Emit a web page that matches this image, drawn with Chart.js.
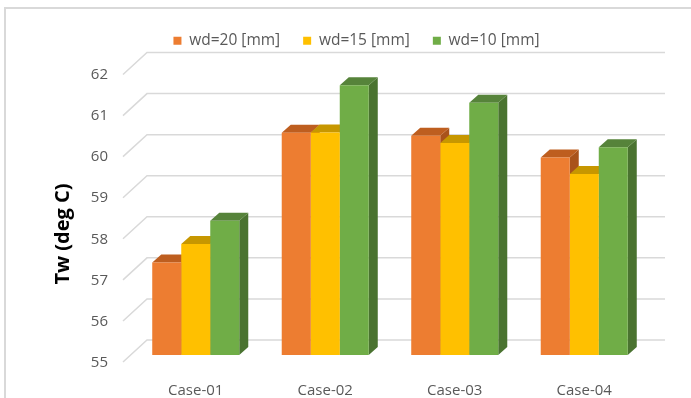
<!DOCTYPE html>
<html>
<head>
<meta charset="utf-8">
<script src="https://cdn.jsdelivr.net/npm/chart.js@4.4.1/dist/chart.umd.min.js"></script>
<style>
  html, body { margin: 0; padding: 0; background: #fff; }
  #wrap { width: 691px; height: 398px; }
</style>
</head>
<body>
<div id="wrap"><canvas id="twChart" width="691" height="398"></canvas></div>
<script>
// Wall temperature for each case and web depth
const cases = ['Case-01', 'Case-02', 'Case-03', 'Case-04'];
const seriesNames = ['wd=20 [mm]', 'wd=15 [mm]', 'wd=10 [mm]'];
const wd20 = [57.25, 60.41, 60.34, 59.81];
const wd15 = [57.70, 60.42, 60.16, 59.41];
const wd10 = [58.27, 61.57, 61.14, 60.06];
const yTicks = [55, 56, 57, 58, 59, 60, 61, 62];
const yTitle = 'Tw (deg C)';

const frontColors = ['#ED7D31', '#FFC000', '#70AD47'];
const topColors = ['#BE5E1F', '#C79700', '#56833A'];
const sideColors = ['#A9531B', '#AE8400', '#4A7330'];

const FONT = "'Open Sans', 'Noto Sans', sans-serif";
const GRID = '#d9d9d9';

// bar depth and wall offsets (pixels, relative to the bar plane)
const BAR_DX = 9, BAR_DY = 8;
const BACK_DX = 16, BACK_DY = 15;
const FRONT_DX = 8, FRONT_DY = 7;

function poly(ctx, pts, color) {
    ctx.beginPath();
    ctx.moveTo(pts[0][0], pts[0][1]);
    for (let i = 1; i < pts.length; i++) ctx.lineTo(pts[i][0], pts[i][1]);
    ctx.closePath();
    ctx.fillStyle = color;
    ctx.fill();
}

// draws the frame, the walls and the top / side faces of the bars
const depthPlugin = {
    id: 'depth',
    beforeDraw(chart) {
        const ctx = chart.ctx;
        ctx.save();
        ctx.strokeStyle = GRID;
        ctx.lineWidth = 2;
        ctx.beginPath();
        ctx.moveTo(5, 398);
        ctx.lineTo(5, 8);
        ctx.lineTo(691, 8);
        ctx.stroke();
        ctx.restore();
    },
    beforeDatasetsDraw(chart) {
        const ctx = chart.ctx;
        const a = chart.chartArea;
        const y = chart.scales.y;
        ctx.save();
        ctx.strokeStyle = GRID;
        ctx.lineWidth = 1.5;
        yTicks.forEach(v => {
            const py = y.getPixelForValue(v);
            ctx.beginPath();
            ctx.moveTo(a.left - FRONT_DX, py + FRONT_DY);
            ctx.lineTo(a.left + BACK_DX, py - BACK_DY);
            ctx.lineTo(a.right + BACK_DX, py - BACK_DY);
            ctx.stroke();
        });

        cases.forEach((c, i) => {
            chart.data.datasets.forEach((ds, d) => {
                const bar = chart.getDatasetMeta(d).data[i];
                const p = bar.getProps(['x', 'y', 'base', 'width'], true);
                const l = p.x - p.width / 2, r = p.x + p.width / 2;
                const t = p.y, b = p.base;
                poly(ctx, [[r, t], [r + BAR_DX, t - BAR_DY], [r + BAR_DX, b - BAR_DY], [r, b]], sideColors[d]);
                poly(ctx, [[l, t], [r, t], [r + BAR_DX, t - BAR_DY], [l + BAR_DX, t - BAR_DY]], topColors[d]);
            });
        });
        ctx.restore();
    },
    afterDraw(chart) {
        const ctx = chart.ctx;
        ctx.save();
        ctx.translate(63, 234);
        ctx.rotate(-Math.PI / 2);
        ctx.font = "bold 20px " + FONT;
        ctx.fillStyle = '#000';
        ctx.textAlign = 'center';
        ctx.textBaseline = 'middle';
        ctx.fillText(yTitle, 0, 0);
        ctx.restore();
    }
};

document.addEventListener('DOMContentLoaded', function() {
    const ctx = document.getElementById('twChart').getContext('2d');
    const values = [wd20, wd15, wd10];

    new Chart(ctx, {
        type: 'bar',
        data: {
            labels: cases,
            datasets: seriesNames.map((name, k) => ({
                label: name,
                data: values[k],
                base: yTicks[0],
                backgroundColor: frontColors[k],
                borderWidth: 0
            }))
        },
        options: {
            responsive: false,
            animation: false,
            events: [],
            layout: { padding: { left: 64, right: 42, top: 10, bottom: 0 } },
            datasets: { bar: { categoryPercentage: 0.672, barPercentage: 1.0 } },
            plugins: {
                tooltip: { enabled: false },
                legend: {
                    position: 'top',
                    labels: {
                        boxWidth: 8,
                        boxHeight: 8,
                        padding: 23,
                        color: '#595959',
                        font: { family: FONT, size: 15.5 }
                    }
                }
            },
            scales: {
                x: {
                    grid: { display: false, drawTicks: false },
                    border: { display: false },
                    afterFit(scale) { scale.height = 43; },
                    ticks: {
                        padding: 27,
                        color: '#595959',
                        font: { family: FONT, size: 15 }
                    }
                },
                y: {
                    min: 55,
                    max: 62.22,
                    beginAtZero: false,
                    grid: { display: false, drawTicks: false },
                    border: { display: false },
                    afterFit(scale) {
                        scale.width = 67;
                        scale.paddingTop = 0;
                        scale.paddingBottom = 0;
                    },
                    afterBuildTicks(scale) { scale.ticks = yTicks.map(v => ({ value: v })); },
                    ticks: {
                        padding: 23,
                        labelOffset: 7.5,
                        color: '#595959',
                        font: { family: FONT, size: 15 }
                    }
                }
            }
        },
        plugins: [depthPlugin]
    });
});
</script>
</body>
</html>
